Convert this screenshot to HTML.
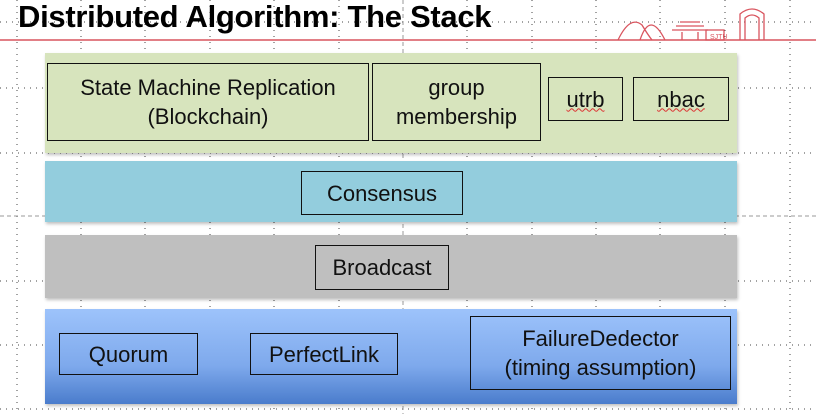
<!DOCTYPE html>
<html><head><style>
body{margin:0;width:816px;height:414px;background:#fff;position:relative;overflow:hidden;font-family:"Liberation Sans",sans-serif}
.a{position:absolute}
.b{position:absolute;border:1.5px solid #111;box-sizing:border-box;display:flex;align-items:center;justify-content:center;text-align:center;font-size:22px;line-height:29px;color:#111}
.band{position:absolute;box-shadow:1px 2px 3px rgba(0,0,0,.25)}
.u{text-decoration:underline wavy #d33;text-decoration-thickness:1px}
</style></head><body>
<svg class="a" style="left:0;top:0" width="816" height="414">
<g stroke="#444" stroke-width="1" stroke-dasharray="1 5">
<line x1="0" y1="22" x2="816" y2="22"/><line x1="0" y1="88" x2="816" y2="88"/><line x1="0" y1="153" x2="816" y2="153"/><line x1="0" y1="281" x2="816" y2="281"/><line x1="0" y1="345" x2="816" y2="345"/><line x1="0" y1="409" x2="816" y2="409"/>
<line x1="17" y1="0" x2="17" y2="414"/><line x1="81" y1="0" x2="81" y2="414"/><line x1="145" y1="0" x2="145" y2="414"/><line x1="210" y1="0" x2="210" y2="414"/><line x1="274" y1="0" x2="274" y2="414"/><line x1="339" y1="0" x2="339" y2="414"/><line x1="467" y1="0" x2="467" y2="414"/><line x1="532" y1="0" x2="532" y2="414"/><line x1="596" y1="0" x2="596" y2="414"/><line x1="660" y1="0" x2="660" y2="414"/><line x1="725" y1="0" x2="725" y2="414"/><line x1="790" y1="0" x2="790" y2="414"/>
</g>
<line x1="403" y1="0" x2="403" y2="414" stroke="#999" stroke-dasharray="4 3"/>
<line x1="0" y1="216" x2="816" y2="216" stroke="#999" stroke-dasharray="4 3"/>
<line x1="0" y1="40" x2="816" y2="40" stroke="#d9555f" stroke-width="1.5"/>
<g stroke="#d9555f" fill="none" stroke-width="1.3">
<path d="M618 40 Q630 15 642 25 Q648 35 652 40 M640 40 Q650 10 665 40"/>
<path d="M672 30 L708 30 M676 26 L704 26 M680 22 L700 22 M682 40 V32 M698 40 V32"/>
<rect x="706" y="30" width="18" height="10"/>
<path d="M740 40 V14 Q752 4 764 14 V40 M745 40 V18 Q752 12 759 18 V40"/>
</g>
<text x="710" y="39" font-size="7" fill="#d9555f" font-family="Liberation Sans">SJTU</text>
</svg>
<div class="a" style="left:18px;top:-1px;font-size:31px;font-weight:bold;letter-spacing:-0.3px;color:#000">Distributed Algorithm: The Stack</div>
<div class="band" style="left:45px;top:53px;width:692px;height:100px;background:#d7e4bd"></div>
<div class="band" style="left:45px;top:161px;width:692px;height:61px;background:#93cddd"></div>
<div class="band" style="left:45px;top:235px;width:692px;height:63px;background:#bfbfbf"></div>
<div class="band" style="left:45px;top:309px;width:692px;height:95px;background:linear-gradient(#9dc3fb,#7ea9ec 60%,#4a7ccc)"></div>
<div class="b" style="left:47px;top:63px;width:322px;height:78px">State Machine Replication<br>(Blockchain)</div>
<div class="b" style="left:372px;top:63px;width:169px;height:78px">group<br>membership</div>
<div class="b" style="left:548px;top:77px;width:75px;height:44px"><span class="u">utrb</span></div>
<div class="b" style="left:633px;top:77px;width:96px;height:44px"><span class="u">nbac</span></div>
<div class="b" style="left:301px;top:171px;width:162px;height:44px">Consensus</div>
<div class="b" style="left:315px;top:245px;width:134px;height:45px">Broadcast</div>
<div class="b" style="left:59px;top:333px;width:139px;height:42px">Quorum</div>
<div class="b" style="left:250px;top:333px;width:148px;height:42px">PerfectLink</div>
<div class="b" style="left:470px;top:316px;width:261px;height:74px">FailureDedector<br>(timing assumption)</div>
</body></html>
